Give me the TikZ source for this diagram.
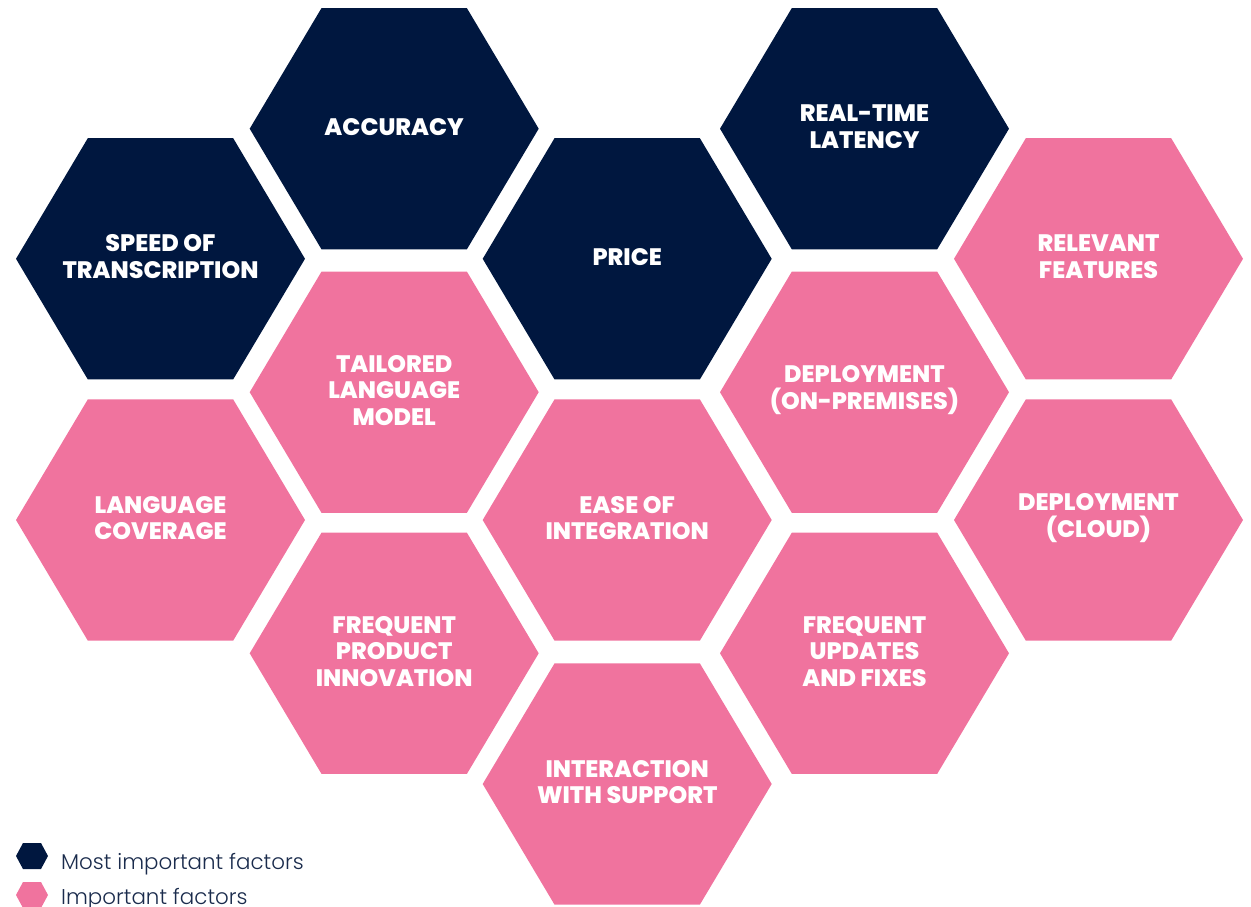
\documentclass[tikz,border=0pt]{standalone}
\usepackage{fontspec}
\setmainfont{Poppins}
\newfontfamily\lightfont{Poppins Light}
\newfontfamily\heavyfont{Poppins ExtraBold}
\definecolor{navy}{HTML}{00173F}
\definecolor{pinkhex}{HTML}{F0739E}
\definecolor{legendtxt}{HTML}{1A2B4C}
\tikzset{
  lbl/.style={text=white, align=center, font=\heavyfont\fontsize{23.8}{26.6}\selectfont, inner sep=0pt},
  legtext/.style={text=legendtxt, anchor=base west, font=\lightfont\fontsize{21.4}{24}\selectfont, inner sep=0pt}
}
\newcommand\hexat[5]{%
  \fill[#3] (#1-144.5,#2) -- (#1-72.7,#2-120.6) -- (#1+72.7,#2-120.6) -- (#1+144.5,#2) -- (#1+72.7,#2+120.6) -- (#1-72.7,#2+120.6) -- cycle;
  \node[lbl] (#4) at (#1,#2-2) {#5};}
\newcommand\smallhex[3]{%
  \fill[#3] (#1-16,#2) -- (#1-9,#2-13) -- (#1+9,#2-13) -- (#1+16,#2) -- (#1+9,#2+13) -- (#1-9,#2+13) -- cycle;}
\begin{document}
\begin{tikzpicture}[x=1pt,y=-1pt]
\useasboundingbox (0,0) rectangle (1251,906);
\hexat{160.5}{258.8}{navy}{speed}{SPEED OF\\TRANSCRIPTION}
\hexat{394.2}{128.7}{navy}{accuracy}{ACCURACY}
\hexat{627.2}{258.8}{navy}{price}{PRICE}
\hexat{864.5}{128.7}{navy}{realtime}{REAL-TIME\\LATENCY}
\hexat{1098.5}{258.8}{pinkhex}{relevant}{RELEVANT\\FEATURES}
\hexat{394.2}{392.2}{pinkhex}{tailored}{TAILORED\\LANGUAGE\\MODEL}
\hexat{864.5}{392.2}{pinkhex}{onprem}{DEPLOYMENT\\(ON-PREMISES)}
\hexat{160.5}{520}{pinkhex}{coverage}{LANGUAGE\\COVERAGE}
\hexat{627.2}{520}{pinkhex}{ease}{EASE OF\\INTEGRATION}
\hexat{1098.5}{520}{pinkhex}{cloud}{DEPLOYMENT\\(CLOUD)}
\hexat{394.2}{653.3}{pinkhex}{innovation}{FREQUENT\\PRODUCT\\INNOVATION}
\hexat{864.5}{653.3}{pinkhex}{updates}{FREQUENT\\UPDATES\\AND FIXES}
\hexat{627.2}{784}{pinkhex}{support}{INTERACTION\\WITH SUPPORT}
\smallhex{32}{856}{navy}
\smallhex{32}{895}{pinkhex}
\node[legtext] (leg1) at (61,869) {Most important factors};
\node[legtext] (leg2) at (61,904) {Important factors};
\end{tikzpicture}
\end{document}
